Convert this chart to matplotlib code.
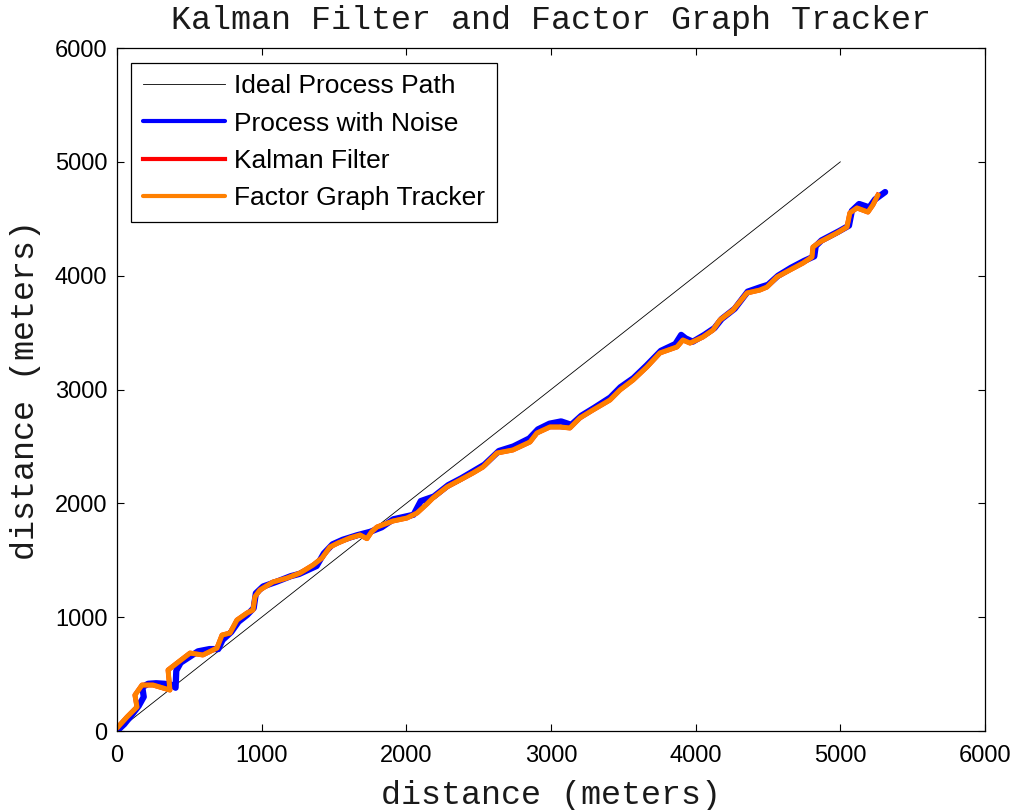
import matplotlib
matplotlib.use('Agg')
import matplotlib.pyplot as plt

# ideal straight-line path
ideal_x = [0, 5000]
ideal_y = [0, 5000]

# noisy process
noise_x = [0, 50, 95, 150, 185, 175, 215, 270, 330, 380, 405, 410, 440, 500, 560, 640, 700, 730, 790, 840,
           900, 945, 960, 1010, 1100, 1200, 1260, 1380, 1430, 1490, 1560, 1660, 1750, 1830, 1910, 2050, 2100,
           2190, 2290, 2380, 2460, 2540, 2640, 2740, 2850, 2910, 2990, 3070, 3140, 3210, 3300, 3410, 3480,
           3570, 3660, 3760, 3860, 3900, 3930, 3980, 4060, 4130, 4180, 4270, 4360, 4450, 4500, 4570, 4660,
           4750, 4820, 4830, 4870, 4990, 5060, 5080, 5130, 5200, 5240, 5310]
noise_y = [0, 60, 130, 220, 300, 385, 415, 420, 415, 405, 380, 530, 600, 650, 700, 720, 720, 800, 870, 960,
           1020, 1080, 1210, 1270, 1310, 1360, 1380, 1450, 1560, 1640, 1680, 1720, 1750, 1790, 1860, 1900, 2020,
           2060, 2160, 2220, 2280, 2340, 2460, 2500, 2570, 2650, 2700, 2720, 2690, 2770, 2840, 2930, 3020,
           3100, 3210, 3340, 3400, 3480, 3450, 3420, 3480, 3540, 3620, 3710, 3860, 3900, 3920, 4000, 4070,
           4130, 4170, 4260, 4310, 4390, 4440, 4570, 4630, 4600, 4670, 4735]

# factor graph tracker estimate
fgt_x = [0, 69, 138, 124, 173, 249, 318, 366, 353, 415, 505, 594, 691, 726, 781, 829, 899, 940, 954, 988,
         1078, 1175, 1265, 1355, 1417, 1472, 1528, 1610, 1680, 1728, 1760, 1797, 1908, 2004, 2074, 2143, 2184,
         2281, 2371, 2461, 2530, 2627, 2737, 2855, 2903, 2993, 3062, 3131, 3200, 3290, 3408, 3477, 3567, 3663,
         3753, 3871, 3912, 3961, 4050, 4120, 4168, 4258, 4355, 4444, 4493, 4562, 4652, 4742, 4804, 4811, 4859,
         4977, 5046, 5066, 5115, 5191, 5225, 5260]
fgt_y = [26, 123, 211, 316, 404, 404, 378, 360, 536, 597, 685, 668, 729, 843, 861, 975, 1037, 1063, 1180, 1239,
         1309, 1344, 1388, 1458, 1520, 1616, 1652, 1696, 1722, 1690, 1750, 1792, 1845, 1871, 1915, 1995, 2047,
         2144, 2205, 2267, 2319, 2442, 2469, 2539, 2618, 2671, 2671, 2662, 2750, 2820, 2908, 2996, 3083, 3198,
         3321, 3374, 3435, 3408, 3461, 3523, 3611, 3698, 3848, 3874, 3900, 3988, 4050, 4111, 4164, 4252, 4296,
         4375, 4428, 4551, 4595, 4559, 4621, 4709]

# kalman filter estimate (lies under the tracker curve)
kf_x = list(fgt_x)
kf_y = list(fgt_y)

ticks = [0, 1000, 2000, 3000, 4000, 5000, 6000]

sans = ['Liberation Sans', 'DejaVu Sans']
mono = ['Liberation Mono', 'DejaVu Sans Mono']

fig = plt.figure(figsize=(10.19, 8.10), dpi=100)
ax = fig.add_axes([0.1148, 0.0975, 0.8518, 0.8432])

ax.plot(ideal_x, ideal_y, color='black', lw=0.6, label='Ideal Process Path')
ax.plot(noise_x, noise_y, color='#0000ff', lw=4.5, solid_capstyle='round', solid_joinstyle='round',
        label='Process with Noise')
ax.plot(kf_x, kf_y, color='#ff0000', lw=3.4, label='Kalman Filter')
ax.plot(fgt_x, fgt_y, color='#ff8000', lw=3.6, solid_capstyle='round', solid_joinstyle='round',
        label='Factor Graph Tracker')

ax.set_xlim(0, 6000)
ax.set_ylim(0, 6000)
ax.set_xticks(ticks)
ax.set_yticks(ticks)
ax.tick_params(direction='in', length=5, width=0.8, top=True, right=True, pad=7)
ax.tick_params(axis='x', pad=10)
for lbl in ax.get_xticklabels() + ax.get_yticklabels():
    lbl.set_family(sans)
    lbl.set_fontsize(17)
for s in ax.spines.values():
    s.set_linewidth(0.9)

ax.set_title('Kalman Filter and Factor Graph Tracker', family=mono, fontsize=24, pad=14, color='#1a1a1a')
ax.set_xlabel('distance (meters)', family=mono, fontsize=24, color='#1a1a1a')
ax.set_ylabel('distance (meters)', family=mono, fontsize=24, color='#1a1a1a')
ax.xaxis.set_label_coords(0.5, -0.071)
ax.yaxis.set_label_coords(-0.087, 0.5)

leg = ax.legend(loc='upper left', prop={'family': sans, 'size': 19}, fancybox=False,
                framealpha=1, edgecolor='black', borderaxespad=0.55, handlelength=3.1,
                labelspacing=0.5, borderpad=0.45, handletextpad=0.35)
leg.get_frame().set_linewidth(0.9)
for h in leg.get_lines()[1:]:
    h.set_linewidth(3)

plt.savefig('out.png', dpi=100)
